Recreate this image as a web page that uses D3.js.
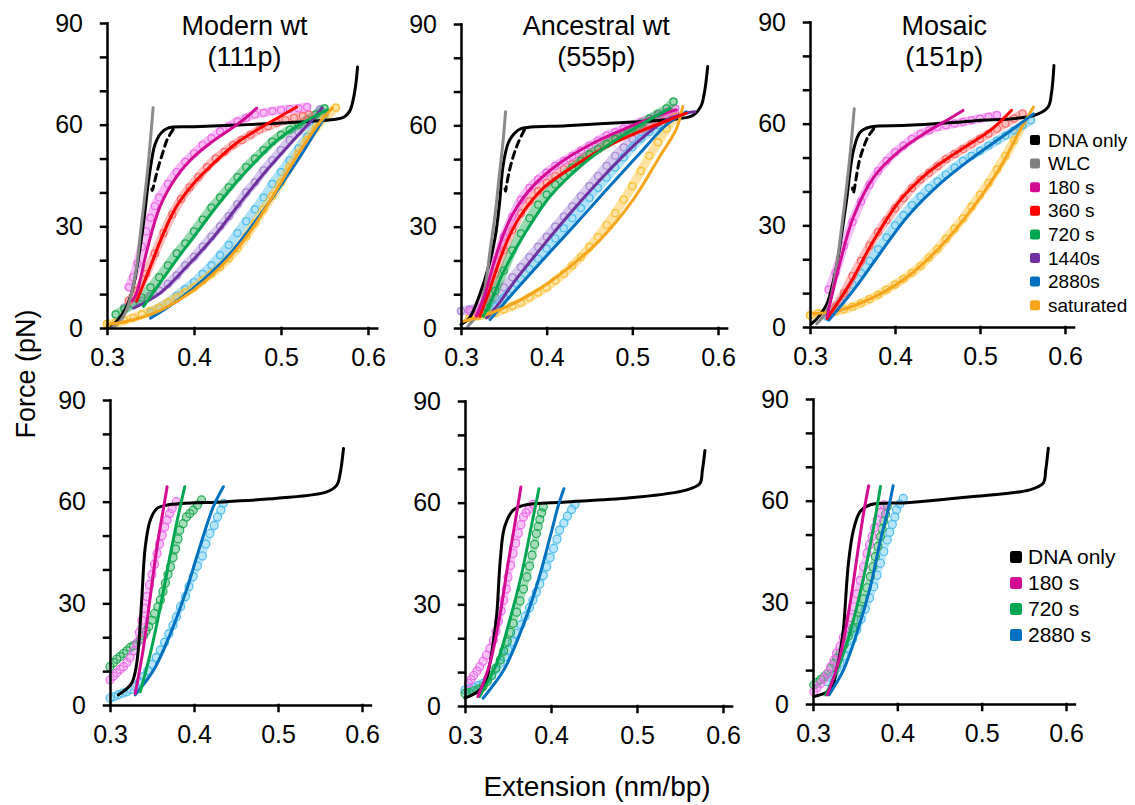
<!DOCTYPE html>
<html lang="en">
<head>
<meta charset="UTF-8">
<script src="https://d3js.org/d3.v7.min.js"></script>
<title>Force vs extension</title>
<style>
  body { margin: 0; background: #fff; }
  svg text { font-family: "Liberation Sans", Arial, sans-serif; fill: #000; }
  .axis path, .axis line { stroke: #000; stroke-width: 2.5px; stroke-linecap: square; }
  .axis text { font-size: 25px; }
  .fit { fill: none; stroke-width: 3px; stroke-linecap: round; }
  .band { fill: none; stroke-linecap: round; stroke-linejoin: round; }
  .pt { fill: none; }
</style>
</head>
<body>
<svg id="chart" width="1135" height="805"></svg>
<script>
// ---- tick labels / legend text
const xTicks = [0.3, 0.4, 0.5, 0.6];
const yTicks = [0, 10, 20, 30, 40, 50, 60, 70, 80, 90];
const panelTitles = [["Modern wt", "(111p)"], ["Ancestral wt", "(555p)"], ["Mosaic", "(151p)"], null, null, null];
const legendTop = ["DNA only", "WLC", "180 s", "360 s", "720 s", "1440s", "2880s", "saturated"];
const legendBottom = ["DNA only", "180 s", "720 s", "2880 s"];

// ---- top row, Modern wt
const mDna = [[0.305,0.5],[0.313,2.5],[0.322,6],[0.33,12],[0.337,22],[0.343,33],[0.347,42],[0.351,49],[0.355,54],[0.362,57.5],[0.37,59],[0.4,59.4],[0.45,59.9],[0.515,60.7],[0.56,61.5],[0.572,62.2],[0.579,64],[0.583,67.4],[0.586,72],[0.588,77]];
const mDash = [[0.376,58.6],[0.369,55.5],[0.364,51.6],[0.359,47.5],[0.355,43.5],[0.353,41.3],[0.352,40.5],[0.351,42.5]];
const mWlc = [[0.305,0],[0.315,2],[0.322,5],[0.329,11],[0.334,18],[0.338,27],[0.343,38],[0.348,50],[0.353,65]];
const m180Fit = [[0.329,8],[0.334,10.3],[0.346,23],[0.361,35.9],[0.38,44.7],[0.4,50.6],[0.419,54.6],[0.438,58],[0.457,61.5],[0.472,64.9]];
const m180Pts = [[0.325,12],[0.33,15],[0.335,19],[0.34,24],[0.345,28.5],[0.35,32.5],[0.355,36],[0.36,38.5],[0.37,42.5],[0.38,46],[0.39,49],[0.4,51.5],[0.41,54],[0.42,56],[0.43,58],[0.44,59.5],[0.45,61],[0.46,62],[0.47,63],[0.48,63.5],[0.49,64],[0.5,64.3],[0.51,64.6],[0.52,64.8],[0.53,65.2]];
const m360Fit = [[0.334,7.9],[0.35,18.2],[0.365,28],[0.38,35.9],[0.4,42.8],[0.423,48.7],[0.449,54.6],[0.476,59],[0.499,62.4],[0.518,65.2]];
const m360Pts = [[0.325,8],[0.335,11],[0.345,16],[0.355,22],[0.365,28],[0.375,33.5],[0.385,38],[0.395,41.5],[0.405,44.5],[0.415,47.5],[0.425,50],[0.435,52],[0.445,54],[0.455,55.5],[0.465,57],[0.475,58.5],[0.485,59.5],[0.495,60.5],[0.505,61.3],[0.515,62],[0.525,62.5],[0.532,63]];
const m720Fit = [[0.342,6.4],[0.361,13.3],[0.38,20.2],[0.4,27],[0.423,34.9],[0.446,42.3],[0.469,48.7],[0.492,54.6],[0.515,59],[0.538,62.4],[0.553,64.4]];
const m720Pts = [[0.31,4],[0.32,5.5],[0.33,7],[0.34,9],[0.35,12],[0.36,15],[0.37,18.5],[0.38,22],[0.39,25],[0.4,28.5],[0.41,32],[0.42,35.5],[0.43,38.5],[0.44,41.5],[0.45,44.5],[0.46,47.5],[0.47,50],[0.48,52.5],[0.49,55],[0.5,57],[0.51,58.5],[0.52,60],[0.53,61.5],[0.54,63],[0.55,64.8]];
const m1440Fit = [[0.331,5.9],[0.361,10.3],[0.392,18.2],[0.423,27],[0.453,36.9],[0.484,46.7],[0.515,55.6],[0.538,62],[0.547,64.9]];
const m1440Pts = [[0.32,6],[0.33,7],[0.34,8],[0.35,9.5],[0.36,11],[0.37,13],[0.38,15.5],[0.39,18.5],[0.4,21],[0.41,24],[0.42,27],[0.43,30],[0.44,33],[0.45,36.5],[0.46,40],[0.47,43],[0.48,46.5],[0.49,49.5],[0.5,52.5],[0.51,55.5],[0.52,58],[0.53,60.5],[0.54,63],[0.545,64.5]];
const m2880Fit = [[0.35,2.9],[0.38,7.9],[0.411,14.3],[0.442,22.1],[0.472,32],[0.499,41.8],[0.522,50.6],[0.541,58.5],[0.553,63.4]];
const m2880Pts = [[0.35,4.5],[0.36,6],[0.37,7.5],[0.38,9.5],[0.39,11.5],[0.4,13.5],[0.41,16],[0.42,18.5],[0.43,21.5],[0.44,24.5],[0.45,28],[0.46,31.5],[0.47,35],[0.48,38.5],[0.49,42.5],[0.5,46],[0.51,49.5],[0.52,53],[0.53,56.5],[0.54,60],[0.55,63]];
const mSatFit = [[0.3,1],[0.323,2],[0.354,4.4],[0.384,8.4],[0.415,14.3],[0.442,21.1],[0.469,30],[0.495,40.8],[0.518,50.6],[0.541,59.5],[0.559,64.9]];
const mSatPts = [[0.3,1.2],[0.31,1.5],[0.32,2.2],[0.33,3],[0.34,4],[0.35,5],[0.36,6],[0.37,7.5],[0.38,9],[0.39,10.5],[0.4,12],[0.41,14],[0.42,16],[0.43,18],[0.44,20.5],[0.45,23.5],[0.46,27],[0.47,31],[0.48,35],[0.49,39],[0.5,43],[0.51,47.5],[0.52,51.5],[0.53,55.5],[0.54,59],[0.55,62],[0.563,65]];

// ---- top row, Ancestral wt
const aDna = [[0.3,1],[0.31,3],[0.322,10],[0.332,18],[0.34,27],[0.345,37],[0.349,47.8],[0.355,54.7],[0.362,57.5],[0.37,59],[0.423,59.9],[0.501,61],[0.555,62],[0.571,63],[0.58,65.6],[0.584,69.5],[0.588,77.4]];
const aDash = [[0.374,58.7],[0.367,55],[0.361,50.8],[0.356,46],[0.353,42],[0.352,40.5],[0.351,42]];
const aWlc = [[0.308,0.5],[0.32,4.4],[0.328,12],[0.334,23],[0.34,34],[0.345,45.9],[0.349,55],[0.352,64]];
const a180Fit = [[0.318,3.5],[0.328,10],[0.338,19],[0.35,28],[0.361,34],[0.384,42],[0.415,48.8],[0.454,54.7],[0.493,59.2],[0.532,63.1],[0.551,64.6]];
const a180Pts = [[0.31,5],[0.32,6],[0.33,12],[0.34,20],[0.35,27],[0.36,33],[0.37,38],[0.38,41.5],[0.39,44],[0.4,46],[0.41,48],[0.42,49.5],[0.43,51],[0.44,52.5],[0.45,54],[0.46,55.5],[0.47,57],[0.48,58],[0.49,59],[0.5,60],[0.51,61],[0.52,62],[0.53,63],[0.54,64],[0.55,65]];
const a360Fit = [[0.322,3.5],[0.333,11],[0.345,20],[0.357,27.5],[0.369,33],[0.396,41.4],[0.431,47.8],[0.47,53.7],[0.509,58.2],[0.548,62.1],[0.563,63.6]];
const a360Pts = [[0.32,4],[0.33,9],[0.34,16],[0.35,23],[0.36,29],[0.37,34],[0.38,37.5],[0.39,40.5],[0.4,43],[0.41,45],[0.42,47],[0.43,48.5],[0.44,50],[0.45,51.5],[0.46,53],[0.47,54.5],[0.48,56],[0.49,57],[0.5,58],[0.51,59],[0.52,60],[0.53,61],[0.54,62],[0.55,63.5]];
const a720Fit = [[0.326,3.5],[0.337,9],[0.349,16.3],[0.363,23],[0.377,29],[0.404,39],[0.439,47.8],[0.478,55.2],[0.516,61.1],[0.544,65]];
const a720Pts = [[0.33,6],[0.34,11],[0.35,17],[0.36,23],[0.37,28],[0.38,32.5],[0.39,36.5],[0.4,39.5],[0.41,42.5],[0.42,45],[0.43,47.5],[0.44,49.5],[0.45,51.5],[0.46,53],[0.47,54.5],[0.48,56],[0.49,57.5],[0.5,59],[0.51,60.5],[0.52,62],[0.53,63.5],[0.54,65],[0.548,67]];
const a1440Fit = [[0.33,3],[0.345,7.5],[0.361,13.3],[0.392,23.2],[0.431,35],[0.47,45.9],[0.509,55.7],[0.54,61.6],[0.563,63.6],[0.573,64]];
const a1440Pts = [[0.3,5],[0.31,5.5],[0.32,6],[0.33,6.5],[0.34,9],[0.35,12],[0.36,15],[0.37,18],[0.38,21],[0.39,24],[0.4,27],[0.41,30],[0.42,33],[0.43,36],[0.44,39],[0.45,42],[0.46,45],[0.47,48],[0.48,51],[0.49,53.5],[0.5,56],[0.51,58],[0.52,60],[0.53,61.5],[0.54,62.5],[0.55,63.5]];
const a2880Fit = [[0.334,2.5],[0.361,10.4],[0.392,19.2],[0.431,30],[0.47,41],[0.509,51.8],[0.54,60.2],[0.563,64]];
const a2880Pts = [[0.33,4],[0.34,6.5],[0.35,9],[0.36,11.5],[0.37,14.5],[0.38,17.5],[0.39,20.5],[0.4,23.5],[0.41,26.5],[0.42,29.5],[0.43,32.5],[0.44,35.5],[0.45,38.5],[0.46,41.5],[0.47,44.5],[0.48,47.5],[0.49,50.5],[0.5,53.5],[0.51,56],[0.52,58],[0.53,60],[0.54,62]];
const aSatFit = [[0.303,2],[0.345,5.4],[0.384,10.4],[0.423,17.3],[0.462,26],[0.501,38],[0.532,50.8],[0.551,58.7],[0.559,65.6]];
const aSatPts = [[0.31,3],[0.32,3.5],[0.33,4],[0.34,4.5],[0.35,5.5],[0.36,6.5],[0.37,7.5],[0.38,9],[0.39,10.5],[0.4,12],[0.41,14],[0.42,16],[0.43,18.5],[0.44,21],[0.45,24],[0.46,27],[0.47,30.5],[0.48,34],[0.49,38],[0.5,42],[0.51,46.5],[0.52,51],[0.53,55],[0.54,59],[0.55,62.5]];

// ---- top row, Mosaic
const sDna = [[0.302,1],[0.31,3],[0.32,6.9],[0.331,17.7],[0.337,27],[0.343,37.4],[0.351,52],[0.359,57.5],[0.371,59],[0.414,59.5],[0.492,60.8],[0.563,62.4],[0.58,64.9],[0.584,68.8],[0.587,77.2]];
const sDash = [[0.375,58.5],[0.368,56],[0.363,53],[0.358,49],[0.355,45],[0.352,40.5],[0.351,39.5],[0.35,41]];
const sWlc = [[0.308,1],[0.32,4.9],[0.331,17.7],[0.337,29],[0.343,41.3],[0.348,53],[0.352,64.4]];
const s180Fit = [[0.32,3],[0.335,18.7],[0.351,32.4],[0.375,44.2],[0.406,52.1],[0.437,57.5],[0.461,61],[0.48,63.9]];
const s180Pts = [[0.322,11],[0.33,16],[0.34,24],[0.35,31],[0.36,37],[0.37,42],[0.38,46],[0.39,49],[0.4,51.5],[0.41,53.5],[0.42,55.5],[0.43,57],[0.44,58],[0.45,59],[0.46,59.5],[0.47,60],[0.48,60.5],[0.49,61],[0.5,61.5],[0.51,62],[0.52,62.5]];
const s360Fit = [[0.32,2.5],[0.347,12.8],[0.375,25.6],[0.406,37.4],[0.437,45.2],[0.476,52.1],[0.512,58],[0.537,63.9]];
const s360Pts = [[0.33,6],[0.34,10],[0.35,15],[0.36,19.5],[0.37,24],[0.38,28],[0.39,31.5],[0.4,35],[0.41,38],[0.42,41],[0.43,43.5],[0.44,45.5],[0.45,47.5],[0.46,49.5],[0.47,51],[0.48,52.5],[0.49,54],[0.5,55.5],[0.51,57],[0.52,58.5],[0.53,60],[0.54,61.5],[0.55,63]];
const s2880Fit = [[0.322,2],[0.351,10.8],[0.382,21.6],[0.414,32.4],[0.453,42.3],[0.492,50.1],[0.531,57],[0.563,62.9]];
const s2880Pts = [[0.32,3],[0.33,5.5],[0.34,9],[0.35,12.5],[0.36,16],[0.37,19.5],[0.38,23],[0.39,26.5],[0.4,30],[0.41,33],[0.42,36],[0.43,38.5],[0.44,41],[0.45,43],[0.46,45],[0.47,47],[0.48,49],[0.49,50.5],[0.5,52],[0.51,53.5],[0.52,55],[0.53,56.5],[0.54,58],[0.55,59.5],[0.56,61]];
const sSatFit = [[0.304,3.9],[0.335,4.9],[0.375,8.8],[0.414,14.7],[0.453,23.6],[0.492,35.4],[0.524,47.2],[0.547,58],[0.563,64.9]];
const sSatPts = [[0.3,3.5],[0.31,4],[0.32,4.2],[0.33,4.6],[0.34,5.2],[0.35,6],[0.36,7],[0.37,8.2],[0.38,9.5],[0.39,11],[0.4,12.5],[0.41,14.2],[0.42,16],[0.43,18],[0.44,20.5],[0.45,23],[0.46,26],[0.47,29],[0.48,32],[0.49,35.5],[0.5,39],[0.51,42.5],[0.52,46.5],[0.53,50.5],[0.54,55],[0.55,59.5]];

// ---- bottom row, Modern wt
const bmDna = [[0.31,3],[0.318,4.4],[0.326,6.5],[0.331,11],[0.334,17.2],[0.338,32],[0.342,46.7],[0.348,54.6],[0.356,58],[0.368,59],[0.439,60],[0.499,61],[0.558,62.9],[0.57,64.9],[0.574,68.3],[0.578,75.7]];
const bm180Fit = [[0.33,3.4],[0.34,17.2],[0.348,32],[0.356,46.7],[0.364,58.5],[0.368,64.4]];
const bm180Pts = [[0.3,7.4],[0.304,8.5],[0.308,9.5],[0.312,10.5],[0.316,11.3],[0.32,12.5],[0.324,14],[0.328,16],[0.332,18.2],[0.335,21.5],[0.338,25],[0.341,28.5],[0.344,32],[0.347,35.5],[0.35,38.5],[0.353,41.5],[0.356,44.7],[0.359,47.5],[0.362,50],[0.365,52.5],[0.368,54.6],[0.371,56.5],[0.374,58],[0.379,60]];
const bm720Fit = [[0.336,3.9],[0.348,15.2],[0.36,29],[0.372,44.7],[0.381,55.6],[0.389,64.4]];
const bm720Pts = [[0.3,11.3],[0.304,12.5],[0.308,13.5],[0.312,14.3],[0.316,15.2],[0.32,16],[0.324,17],[0.328,17.5],[0.332,18.2],[0.336,19.3],[0.34,20.5],[0.343,21.8],[0.346,23.1],[0.35,25],[0.353,27],[0.357,29],[0.36,31],[0.363,33.5],[0.366,36],[0.369,38.5],[0.372,40.8],[0.375,43.5],[0.378,46],[0.381,49],[0.383,51.6],[0.387,53.5],[0.391,55.5],[0.395,56.5],[0.399,57.5],[0.404,59],[0.409,60.5]];
const bm2880Fit = [[0.33,3],[0.352,10.3],[0.372,21.1],[0.391,33.9],[0.407,46.7],[0.423,58.5],[0.435,64.4]];
const bm2880Pts = [[0.3,2],[0.305,2.5],[0.31,3],[0.315,3.5],[0.32,3.9],[0.325,4.6],[0.33,5.5],[0.335,6.8],[0.34,8.4],[0.345,10.2],[0.35,12],[0.355,14],[0.36,16.2],[0.365,18.5],[0.37,21],[0.375,23.5],[0.379,26],[0.384,29],[0.39,32],[0.394,35],[0.399,37.9],[0.404,41],[0.41,44],[0.414,47.5],[0.419,50.6],[0.424,53],[0.428,55.5],[0.432,57.5],[0.435,59.5]];

// ---- bottom row, Ancestral wt
const baDna = [[0.3,2.3],[0.317,4.7],[0.325,8],[0.329,12.6],[0.333,19],[0.337,27.3],[0.341,43],[0.346,52.8],[0.356,57.8],[0.368,59.2],[0.418,60.2],[0.496,61.5],[0.557,63.7],[0.573,65.6],[0.576,69.5],[0.579,75.4]];
const ba180Fit = [[0.315,2.8],[0.329,12.6],[0.341,27.3],[0.35,42],[0.358,53.8],[0.365,64.6]];
const ba180Pts = [[0.304,6.7],[0.307,7.8],[0.31,9],[0.314,10.3],[0.317,11.6],[0.321,13.2],[0.325,15],[0.329,17],[0.333,19.4],[0.336,22],[0.339,25],[0.342,28],[0.345,31.2],[0.348,34.5],[0.35,38],[0.353,41.5],[0.356,45],[0.359,48],[0.362,51],[0.365,53.5],[0.368,55.8],[0.371,57],[0.374,58],[0.379,59.5]];
const ba720Fit = [[0.317,2.8],[0.337,12.6],[0.352,25.3],[0.366,39.1],[0.377,52.8],[0.386,64.1]];
const ba720Pts = [[0.3,3.7],[0.305,4],[0.31,4.5],[0.316,5],[0.321,5.7],[0.326,7.2],[0.331,9],[0.336,11.2],[0.341,13.6],[0.345,16.2],[0.349,19],[0.353,21.7],[0.356,24.4],[0.36,27.7],[0.364,31],[0.368,34.5],[0.372,38.1],[0.375,41.3],[0.378,44.5],[0.381,47.7],[0.383,50.9],[0.385,53],[0.387,55],[0.389,57],[0.391,58.7]];
const ba2880Fit = [[0.321,2.3],[0.345,10.6],[0.364,21.4],[0.383,35.2],[0.399,49.9],[0.408,58.7],[0.415,64.1]];
const ba2880Pts = [[0.3,4.7],[0.305,5.1],[0.31,5.5],[0.316,6.1],[0.321,6.7],[0.326,7.8],[0.331,9],[0.336,10.8],[0.341,12.6],[0.346,14.5],[0.35,16.5],[0.355,19],[0.36,21.4],[0.365,24],[0.37,26.5],[0.375,29],[0.379,31.2],[0.383,33.6],[0.387,36],[0.391,38.5],[0.395,41.1],[0.399,43.8],[0.403,46.5],[0.407,49.2],[0.41,51.9],[0.415,54],[0.419,56],[0.424,58],[0.428,59.5]];

// ---- bottom row, Mosaic
const bsDna = [[0.301,2.2],[0.317,3.6],[0.324,6],[0.328,10],[0.332,15],[0.336,21.9],[0.342,41.5],[0.348,51.4],[0.356,56.8],[0.368,58.8],[0.411,59.4],[0.49,61.2],[0.557,63.2],[0.573,65.2],[0.576,69.1],[0.579,75.5]];
const bs180Fit = [[0.317,2.7],[0.332,14],[0.344,29.7],[0.354,46.5],[0.36,56.3],[0.366,64.4]];
const bs180Pts = [[0.301,3.6],[0.305,4.8],[0.309,6],[0.313,7.5],[0.317,9],[0.321,11],[0.325,13],[0.328,15],[0.332,17],[0.336,19.7],[0.34,22.5],[0.344,25.5],[0.348,28.7],[0.352,32.5],[0.356,36.5],[0.36,40.5],[0.364,44.5],[0.367,47],[0.37,49.5],[0.373,52],[0.376,54.3],[0.38,56.5],[0.384,58.8]];
const bs720Fit = [[0.315,2.7],[0.332,12],[0.348,24.8],[0.362,39.6],[0.372,52.4],[0.38,64.2]];
const bs720Pts = [[0.301,5.6],[0.305,6.4],[0.309,7.2],[0.313,8],[0.317,9],[0.321,10.5],[0.325,12],[0.328,13.5],[0.332,15],[0.337,17.5],[0.342,20],[0.347,22.4],[0.352,24.8],[0.356,28],[0.36,31],[0.364,34.3],[0.368,37.6],[0.371,40.5],[0.374,43.5],[0.377,46.5],[0.38,49.4],[0.382,51.7],[0.384,54],[0.386,56],[0.388,58.3]];
const bs2880Fit = [[0.319,2.7],[0.336,10],[0.352,20.9],[0.368,34.6],[0.38,48.4],[0.39,58.3],[0.395,64.4]];
const bs2880Pts = [[0.317,6.6],[0.321,7.8],[0.325,9],[0.328,10.5],[0.332,12],[0.337,14.2],[0.342,16.5],[0.347,19.2],[0.352,21.9],[0.357,25],[0.362,28],[0.367,31.3],[0.372,34.6],[0.376,38],[0.38,41.5],[0.384,45],[0.388,48.4],[0.391,50.7],[0.394,53],[0.397,55.2],[0.399,57.3],[0.403,59],[0.407,60.7]];

// colours: fitted line / data circles
const lineColor = { dna: "#000000", wlc: "#8a8a8a", c180: "#d40c93", c360: "#ff0000", c720: "#00a650", c1440: "#7030a0", c2880: "#0070c0", sat: "#f7a51c" };
const dotColor = { c180: "#ee6cea", c360: "#ff6a6a", c720: "#1faa52", c1440: "#a98ad6", c2880: "#4dbdee", sat: "#fcbf2e" };

// panel frame: pixel x at 0.3 and 0.6, pixel y at 0 and 90
const frames = [
  { x0: 107, x6: 368, y0: 328, y9: 23 },
  { x0: 461, x6: 718, y0: 328, y9: 24 },
  { x0: 810, x6: 1065, y0: 327, y9: 22 },
  { x0: 110, x6: 362, y0: 705, y9: 400 },
  { x0: 465, x6: 723, y0: 706, y9: 401 },
  { x0: 813, x6: 1066, y0: 704, y9: 399 }
];

const panels = [
  { dna: mDna, dash: mDash, wlc: mWlc, series: [["c1440", m1440Pts, m1440Fit], ["c2880", m2880Pts, m2880Fit], ["sat", mSatPts, mSatFit], ["c720", m720Pts, m720Fit], ["c360", m360Pts, m360Fit], ["c180", m180Pts, m180Fit]] },
  { dna: aDna, dash: aDash, wlc: aWlc, series: [["c1440", a1440Pts, a1440Fit], ["c2880", a2880Pts, a2880Fit], ["sat", aSatPts, aSatFit], ["c360", a360Pts, a360Fit], ["c180", a180Pts, a180Fit], ["c720", a720Pts, a720Fit]] },
  { dna: sDna, dash: sDash, wlc: sWlc, series: [["sat", sSatPts, sSatFit], ["c2880", s2880Pts, s2880Fit], ["c360", s360Pts, s360Fit], ["c180", s180Pts, s180Fit]] },
  { dna: bmDna, series: [["c2880", bm2880Pts, bm2880Fit], ["c720", bm720Pts, bm720Fit], ["c180", bm180Pts, bm180Fit]] },
  { dna: baDna, series: [["c2880", ba2880Pts, ba2880Fit], ["c720", ba720Pts, ba720Fit], ["c180", ba180Pts, ba180Fit]] },
  { dna: bsDna, series: [["c2880", bs2880Pts, bs2880Fit], ["c720", bs720Pts, bs720Fit], ["c180", bs180Pts, bs180Fit]] }
];

const svg = d3.select("#chart");

panels.forEach((p, i) => {
  const f = frames[i];
  const bottomRow = i >= 3;
  const x = d3.scaleLinear().domain([0.3, 0.61]).range([f.x0, f.x0 + (f.x6 - f.x0) * 31 / 30]);
  const y = d3.scaleLinear().domain([0, 90]).range([f.y0, f.y9]);
  const g = svg.append("g");

  const line = d3.line()
    .x(d => x(d[0]))
    .y(d => y(d[1]))
    .curve(d3.curveCatmullRom.alpha(0.5));

  // data circles (drawn first, under the fits)
  p.series.forEach(([key, pts]) => {
    g.append("path")
      .attr("class", "band")
      .attr("d", line(pts))
      .attr("stroke", dotColor[key])
      .attr("stroke-width", bottomRow ? 7 : 9)
      .attr("stroke-opacity", bottomRow ? 0.4 : 0.45);
    g.selectAll(null)
      .data(pts)
      .enter().append("circle")
      .attr("class", "pt")
      .attr("cx", d => x(d[0]))
      .attr("cy", d => y(d[1]))
      .attr("r", bottomRow ? 4 : 3.5)
      .attr("stroke", dotColor[key])
      .attr("stroke-width", 1.2);
  });

  // DNA only
  g.append("path").attr("class", "fit").attr("d", line(p.dna))
    .attr("stroke", lineColor.dna);
  if (p.dash) {
    g.append("path").attr("class", "fit").attr("d", line(p.dash))
      .attr("stroke", lineColor.dna).attr("stroke-dasharray", "7 5").attr("stroke-linecap", "butt");
  }
  if (p.wlc) {
    g.append("path").attr("class", "fit").attr("d", line(p.wlc))
      .attr("stroke", lineColor.wlc).attr("stroke-width", 2.5);
  }

  // fitted curves
  p.series.forEach(([key, , fit]) => {
    g.append("path").attr("class", "fit").attr("d", line(fit))
      .attr("stroke", lineColor[key]);
  });

  // axes
  g.append("g")
    .attr("class", "axis")
    .attr("transform", `translate(${f.x0},0)`)
    .call(d3.axisLeft(y).tickValues(yTicks).tickSize(6).tickSizeOuter(0).tickPadding(18)
      .tickFormat(d => d % 30 === 0 ? d : ""));
  g.append("g")
    .attr("class", "axis")
    .attr("transform", `translate(0,${f.y0})`)
    .call(d3.axisBottom(x).tickValues(xTicks).tickSize(6).tickSizeOuter(0).tickPadding(14)
      .tickFormat(d3.format(".1f")));

  // title
  const t = panelTitles[i];
  if (t) {
    t.forEach((s, k) => {
      svg.append("text")
        .attr("x", x(0.458))
        .attr("y", 35 + k * 31)
        .attr("text-anchor", "middle")
        .style("font-size", "27px")
        .text(s);
    });
  }
});

// legends
const topKeys = ["dna", "wlc", "c180", "c360", "c720", "c1440", "c2880", "sat"];
const legTop = svg.append("g").attr("transform", "translate(1030,140)");
legendTop.forEach((name, k) => {
  const row = legTop.append("g").attr("transform", `translate(0,${k * 23.6})`);
  row.append("rect").attr("x", 0).attr("y", -5).attr("width", 10).attr("height", 10).attr("rx", 2)
    .attr("fill", topKeys[k] === "wlc" ? "#808080" : lineColor[topKeys[k]]);
  row.append("text").attr("x", 18).attr("dy", "0.35em").style("font-size", "19px").text(name);
});

const botKeys = ["dna", "c180", "c720", "c2880"];
const legBot = svg.append("g").attr("transform", "translate(1010,557)");
legendBottom.forEach((name, k) => {
  const row = legBot.append("g").attr("transform", `translate(0,${k * 26})`);
  row.append("rect").attr("x", 0).attr("y", -6).attr("width", 12).attr("height", 12).attr("rx", 2.5)
    .attr("fill", lineColor[botKeys[k]]);
  row.append("text").attr("x", 18).attr("dy", "0.35em").style("font-size", "21px").text(name);
});

// axis titles
svg.append("text")
  .attr("transform", "translate(35,374) rotate(-90)")
  .attr("text-anchor", "middle")
  .style("font-size", "27px")
  .text("Force (pN)");
svg.append("text")
  .attr("x", 597)
  .attr("y", 796)
  .attr("text-anchor", "middle")
  .style("font-size", "28px")
  .text("Extension (nm/bp)");
</script>
</body>
</html>
